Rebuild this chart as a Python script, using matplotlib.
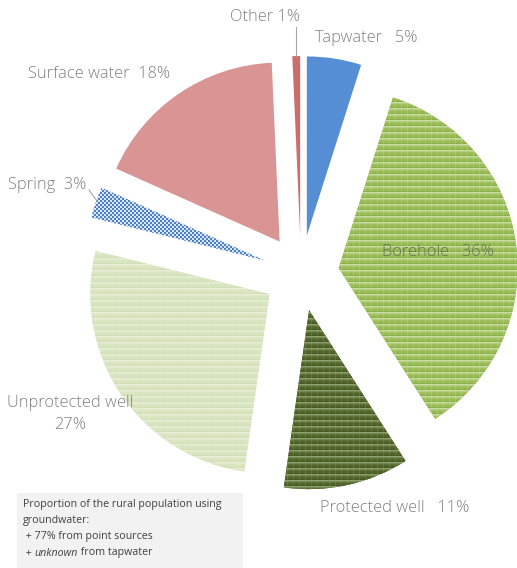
import numpy as np
import matplotlib
matplotlib.use("Agg")
import matplotlib.pyplot as plt
from matplotlib.patches import Rectangle

# Rural drinking-water sources (share of population, %)
labels = ["Tapwater", "Borehole", "Protected well", "Unprotected well",
          "Spring", "Surface water", "Other"]
shares = [4.9, 36.0, 11.3, 26.6, 2.8, 17.6, 0.7]

W, H = 517, 568
fig = plt.figure(figsize=(W / 100, H / 100), dpi=100)
ax = fig.add_axes([0, 0, 1, 1])

FONT = "Open Sans"
LABEL_COLOR = "#808080"


def px(x, y):
    """Convert top-left pixel coordinates to data coordinates."""
    return x, H - y


cx, cy = px(301, 273)
R = 179
gap = 38

base_colors = ["#558ed5", "#9bbb59", "#4f6228", "#d7e4bd",
               "#ffffff", "#d99594", "#cd6e6c"]

wedges, _ = ax.pie(shares, startangle=90, counterclock=False, radius=R,
                   center=(cx, cy), explode=[gap] * len(shares),
                   colors=base_colors, wedgeprops=dict(linewidth=0))


def brick_tile(base, light, dark):
    base, light, dark = (np.array(c, float) / 255 for c in (base, light, dark))
    t = np.tile(base, (6, 6, 1))
    t[0, :] = light
    t[1, :] = 0.55 * light + 0.45 * base
    t[2, :] = 0.2 * light + 0.8 * base
    t[5, :] = 0.5 * dark + 0.5 * base
    t[:, 5] = 0.3 * light + 0.7 * t[:, 5]
    return t


def checker_tile(fg, bg):
    fg, bg = np.array(fg, float) / 255, np.array(bg, float) / 255
    t = np.zeros((4, 4, 3))
    for i in range(4):
        for j in range(4):
            t[i, j] = fg if ((i // 2 + j // 2) % 2 == 0) else bg
    return t


textures = {
    1: brick_tile((152, 187, 86), (200, 221, 160), (125, 160, 65)),
    2: brick_tile((80, 100, 42), (140, 160, 110), (60, 78, 28)),
    3: brick_tile((215, 228, 190), (230, 238, 214), (203, 216, 176)),
    4: checker_tile((75, 128, 196), (218, 230, 246)),
}

for idx, tile in textures.items():
    th, tw = tile.shape[:2]
    img = np.tile(tile, (H // th + 1, W // tw + 1, 1))[:H, :W]
    im = ax.imshow(img, extent=(0, W, 0, H), origin="upper",
                   interpolation="nearest",
                   zorder=wedges[idx].get_zorder() + 0.1)
    im.set_clip_path(wedges[idx])

ax.set_xlim(0, W)
ax.set_ylim(0, H)
ax.set_aspect("equal")
ax.axis("off")

fs = 11.8


def pct(v):
    return f"{v:.0f}%"


def lbl(i, x, y, sep="   ", **kw):
    kw.setdefault("color", LABEL_COLOR)
    ax.text(*px(x, y), f"{labels[i]}{sep}{pct(shares[i])}", fontsize=fs,
            family=FONT, fontweight="light", va="center", zorder=5, **kw)


lbl(0, 315, 38, ha="left")
lbl(1, 438, 252, ha="center", color="#667355")
lbl(2, 320, 508, ha="left")
ax.text(*px(70, 403), labels[3], fontsize=fs, family=FONT, fontweight="light",
        color=LABEL_COLOR, va="center", ha="center", zorder=5)
ax.text(*px(70, 425), pct(shares[3]), fontsize=fs, family=FONT,
        fontweight="light", color=LABEL_COLOR, va="center", ha="center",
        zorder=5)
lbl(4, 8, 185, sep="  ", ha="left")
lbl(5, 28, 74, sep="  ", ha="left")
lbl(6, 230, 17, sep=" ", ha="left")

# leader lines for the two thinnest slices
ax.plot(*zip(px(296, 27), px(296, 56)), color="#a6a6a6", lw=0.8, zorder=4)
ax.plot(*zip(px(89, 190), px(97, 201)), color="#a6a6a6", lw=0.8, zorder=4)

# note box
ax.add_patch(Rectangle(px(17, 568), 226, 75, facecolor="#f2f2f2",
                       edgecolor="none", zorder=3))
note_fs = 7.7
note_color = "#404040"
for yy, line in [(505, "Proportion of the rural population using"),
                 (521, "groundwater:"),
                 (537, " + 77% from point sources")]:
    ax.text(*px(23, yy), line, fontsize=note_fs, family=FONT,
            color=note_color, va="center", ha="left", zorder=5)

fig.canvas.draw()
renderer = fig.canvas.get_renderer()
t1 = ax.text(*px(23, 553), " + ", fontsize=note_fs, family=FONT,
             color=note_color, va="center", ha="left", zorder=5)
w1 = t1.get_window_extent(renderer).width
t2 = ax.text(*px(23 + w1, 553), "unknown", fontsize=note_fs, family=FONT,
             style="italic", color=note_color, va="center", ha="left",
             zorder=5)
w2 = t2.get_window_extent(renderer).width
ax.text(*px(23 + w1 + w2, 553), " from tapwater", fontsize=note_fs,
        family=FONT, color=note_color, va="center", ha="left", zorder=5)

fig.savefig("out.png", dpi=100)
